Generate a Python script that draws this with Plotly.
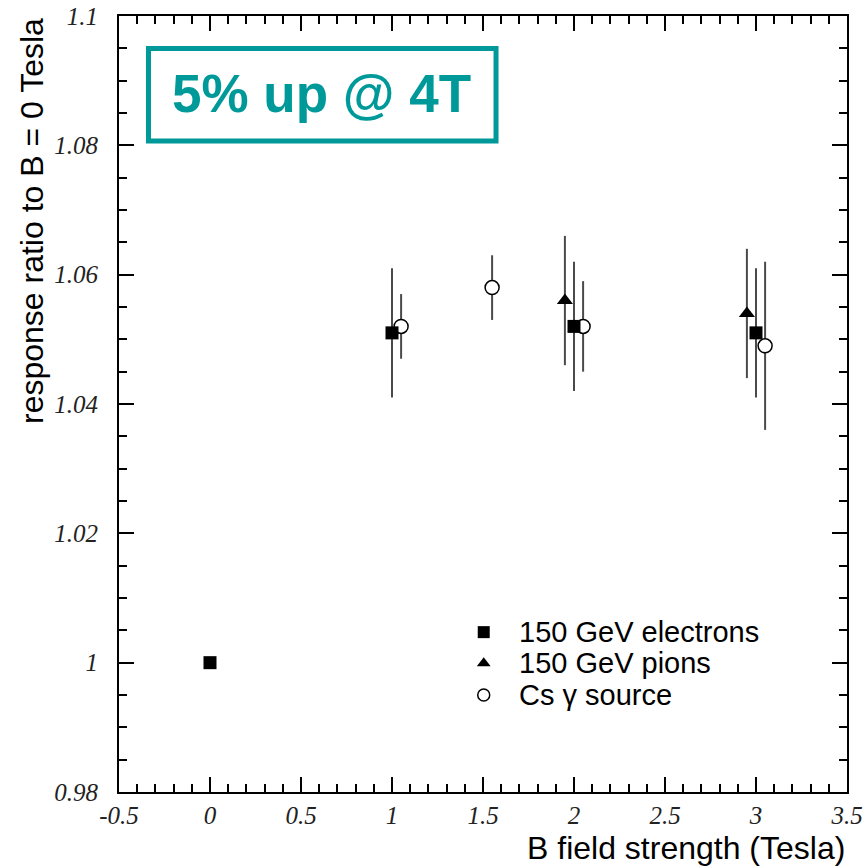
import plotly.graph_objects as go

# Response ratio relative to B = 0 T, versus magnetic field strength
elec_b = [0.0, 1.0, 2.0, 3.0]
elec_r = [1.000, 1.051, 1.052, 1.051]
elec_e = [0.0, 0.010, 0.010, 0.010]

pion_b = [1.95, 2.95]
pion_r = [1.056, 1.054]
pion_e = [0.010, 0.010]

cs_b = [1.05, 1.55, 2.05, 3.05]
cs_r = [1.052, 1.058, 1.052, 1.049]
cs_e = [0.005, 0.005, 0.007, 0.013]

legend_labels = ["150 GeV electrons", "150 GeV pions", "Cs \u03b3 source"]
x_ticks = [-0.5, 0, 0.5, 1, 1.5, 2, 2.5, 3, 3.5]
x_tick_text = ["-0.5", "0", "0.5", "1", "1.5", "2", "2.5", "3", "3.5"]
y_ticks = [0.98, 1.0, 1.02, 1.04, 1.06, 1.08, 1.1]
y_tick_text = ["0.98", "1", "1.02", "1.04", "1.06", "1.08", "1.1"]

TEAL = "#00999a"
ERR = "#4a4a4a"

fig = go.Figure()

# Cs source first so the filled markers sit on top of it
fig.add_trace(go.Scatter(
    x=cs_b, y=cs_r, mode="markers", showlegend=False,
    error_y=dict(type="data", array=cs_e, color=ERR, thickness=2, width=0),
    marker=dict(symbol="circle", size=14, color="white",
                line=dict(color="black", width=1.5)),
))
fig.add_trace(go.Scatter(
    x=pion_b, y=pion_r, mode="markers", showlegend=False,
    error_y=dict(type="data", array=pion_e, color=ERR, thickness=2, width=0),
    marker=dict(symbol="triangle-up", size=14, color="black"),
))
fig.add_trace(go.Scatter(
    x=elec_b, y=elec_r, mode="markers", showlegend=False,
    error_y=dict(type="data", array=elec_e, color=ERR, thickness=2, width=0),
    marker=dict(symbol="square", size=13, color="black"),
))

# Legend keys drawn on a hidden overlay axis spanning the plot area
key_x = 0.501
key_y = [0.206, 0.166, 0.125]
key_symbols = ["square", "triangle-up", "circle"]
key_fill = ["black", "black", "white"]
for ky, sym, fill in zip(key_y, key_symbols, key_fill):
    fig.add_trace(go.Scatter(
        x=[key_x], y=[ky], xaxis="x2", yaxis="y2", mode="markers",
        showlegend=False, hoverinfo="skip",
        marker=dict(symbol=sym, size=12, color=fill,
                    line=dict(color="black", width=1.5 if fill == "white" else 0)),
    ))

annotations = []
for ky, label in zip(key_y, legend_labels):
    annotations.append(dict(
        x=0.5467, y=ky, xref="paper", yref="paper", xanchor="left", yanchor="middle",
        text=label, showarrow=False,
        font=dict(family="Liberation Sans, Arial", size=29, color="black"),
    ))

# Axis titles, right/top aligned
annotations.append(dict(
    x=1.0, y=0, xref="paper", yref="paper", xanchor="right", yanchor="middle",
    yshift=-56, text="B field strength (Tesla)", showarrow=False,
    font=dict(family="Liberation Sans, Arial", size=32, color="black"),
))
annotations.append(dict(
    x=0, y=1.0, xref="paper", yref="paper", xanchor="center", yanchor="top",
    xshift=-87, text="response ratio to B = 0 Tesla", showarrow=False, textangle=-90,
    font=dict(family="Liberation Sans, Arial", size=32, color="black"),
))

# Highlight box
annotations.append(dict(
    x=0.2775, y=0.8995, xref="paper", yref="paper", xanchor="center", yanchor="middle",
    text="<b>5% up @ 4T</b>", showarrow=False,
    font=dict(family="Liberation Sans, Arial", size=53, color=TEAL),
))

shapes = [dict(
    type="rect", xref="paper", yref="paper",
    x0=0.0405, x1=0.5179, y0=0.8389, y1=0.9581,
    line=dict(color=TEAL, width=5), fillcolor="rgba(0,0,0,0)",
)]

tick_font = dict(family="Liberation Serif, Times New Roman", size=25, color="#222", style="italic")

fig.update_layout(
    width=863, height=867,
    margin=dict(l=119, r=16, t=16, b=75),
    paper_bgcolor="white", plot_bgcolor="white",
    showlegend=False,
    annotations=annotations,
    shapes=shapes,
    xaxis=dict(
        range=[-0.5, 3.5], tickvals=x_ticks, ticktext=x_tick_text, automargin=False,
        ticks="inside", ticklen=15, tickwidth=1.5, tickcolor="black",
        showline=True, linecolor="black", linewidth=2, mirror="ticks",
        showgrid=False, zeroline=False, tickfont=tick_font,
        minor=dict(dtick=0.1, tick0=0, ticks="inside", ticklen=8, tickwidth=1.5,
                   tickcolor="black", showgrid=False),
    ),
    yaxis=dict(
        range=[0.98, 1.1], tickvals=y_ticks, ticktext=y_tick_text, automargin=False,
        ticks="inside", ticklen=15, tickwidth=1.5, tickcolor="black",
        showline=True, linecolor="black", linewidth=2, mirror="ticks",
        showgrid=False, zeroline=False, tickfont=tick_font, ticklabelstandoff=14,
        minor=dict(dtick=0.005, tick0=0.98, ticks="inside", ticklen=8, tickwidth=1.5,
                   tickcolor="black", showgrid=False),
    ),
    xaxis2=dict(range=[0, 1], overlaying="x", visible=False, domain=[0, 1]),
    yaxis2=dict(range=[0, 1], overlaying="y", visible=False, domain=[0, 1]),
)

fig.write_html("out.html")
